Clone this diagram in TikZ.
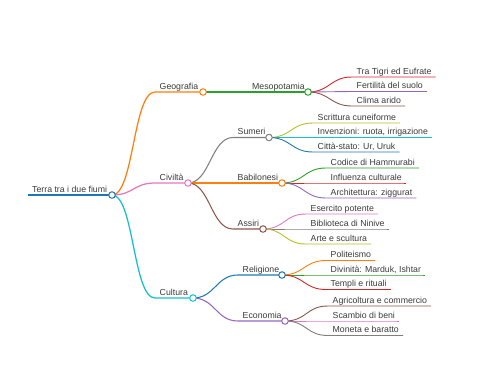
\documentclass[tikz,border=0pt]{standalone}
\usepackage{fontspec}
\setmainfont{Liberation Sans}
\definecolor{cBlue}{HTML}{1F77B4}
\definecolor{cOrange}{HTML}{FF7F0E}
\definecolor{cGreen}{HTML}{2CA02C}
\definecolor{cRed}{HTML}{D62728}
\definecolor{cPurple}{HTML}{9467BD}
\definecolor{cBrown}{HTML}{8C564B}
\definecolor{cPink}{HTML}{E377C2}
\definecolor{cGray}{HTML}{7F7F7F}
\definecolor{cOlive}{HTML}{BCBD22}
\definecolor{cCyan}{HTML}{17BECF}
\definecolor{txtcol}{HTML}{3A3A3A}
\begin{document}
\begin{tikzpicture}[x=1pt,y=-1pt,
  txt/.style={anchor=base west, inner sep=0pt, font=\fontsize{8.75}{10}\selectfont, text=txtcol},
  dot/.style={circle, draw, fill=white, inner sep=0pt, minimum size=6.5pt, line width=1pt},
  mm/.style={out=0, in=180, distance=22pt},
  w0/.style={line width=1.8pt},
  w1/.style={line width=1.25pt},
  w2/.style={line width=1.05pt},
  w3/.style={line width=0.9pt}]
\useasboundingbox (0,0) rectangle (480,384);

% ---------- root
\node[txt] (root) at (32,192) {Terra tra i due fiumi};
\coordinate (root-l) at (28,195);
\coordinate (root-c) at (112,195);
\draw[w0,cBlue] (root-l) -- (root-c);

% ---------- level 1
\node[txt] (geo) at (159.5,89) {Geografia};
\coordinate (geo-l) at (155,92);
\coordinate (geo-c) at (203,92);
\draw[w1,cOrange] (root-c) to[mm] (geo-l) -- (geo-c);

\node[txt] (civ) at (159.5,180) {Civiltà};
\coordinate (civ-l) at (155,183);
\coordinate (civ-c) at (188,183);
\draw[w1,cPink] (root-c) to[mm] (civ-l) -- (civ-c);

\node[txt] (cul) at (159.5,295) {Cultura};
\coordinate (cul-l) at (155,298);
\coordinate (cul-c) at (193,298);
\draw[w1,cCyan] (root-c) to[mm] (cul-l) -- (cul-c);

% ---------- level 2
\node[txt] (meso) at (252,89) {Mesopotamia};
\coordinate (meso-l) at (247.5,92);
\coordinate (meso-c) at (308,92);
\draw[w2,cGreen] (geo-c) to[mm] (meso-l) -- (meso-c);

\node[txt] (sum) at (237.5,134.5) {Sumeri};
\coordinate (sum-l) at (233,137.5);
\coordinate (sum-c) at (269,137.5);
\draw[w2,cGray] (civ-c) to[mm] (sum-l) -- (sum-c);

\node[txt] (bab) at (237.5,180) {Babilonesi};
\coordinate (bab-l) at (233,183);
\coordinate (bab-c) at (282,183);
\draw[w2,cOrange] (civ-c) to[mm] (bab-l) -- (bab-c);

\node[txt] (ass) at (237.5,226) {Assiri};
\coordinate (ass-l) at (233,229);
\coordinate (ass-c) at (263,229);
\draw[w2,cBrown] (civ-c) to[mm] (ass-l) -- (ass-c);

\node[txt] (rel) at (242.5,272) {Religione};
\coordinate (rel-l) at (238,275);
\coordinate (rel-c) at (282,275);
\draw[w2,cBlue] (cul-c) to[mm] (rel-l) -- (rel-c);

\node[txt] (eco) at (242.5,318) {Economia};
\coordinate (eco-l) at (238,321);
\coordinate (eco-c) at (285,321);
\draw[w2,cPurple] (cul-c) to[mm] (eco-l) -- (eco-c);

% ---------- leaves: Mesopotamia
\node[txt] (m1) at (356.5,74) {Tra Tigri ed Eufrate};
\coordinate (m1-l) at (352,77);
\draw[w3,cRed] (meso-c) to[mm] (m1-l) -- (m1.east |- m1-l) -- ++(4,0);
\node[txt] (m2) at (356.5,88.5) {Fertilità del suolo};
\coordinate (m2-l) at (352,91.5);
\draw[w3,cPurple] (meso-c) to[mm] (m2-l) -- (m2.east |- m2-l) -- ++(4,0);
\node[txt] (m3) at (356.5,103) {Clima arido};
\coordinate (m3-l) at (352,106);
\draw[w3,cBrown] (meso-c) to[mm] (m3-l) -- (m3.east |- m3-l) -- ++(4,0);

% ---------- leaves: Sumeri
\node[txt] (s1) at (317.5,120) {Scrittura cuneiforme};
\coordinate (s1-l) at (313,123);
\draw[w3,cOlive] (sum-c) to[mm] (s1-l) -- (s1.east |- s1-l) -- ++(4,0);
\node[txt] (s2) at (317.5,134.5) {Invenzioni: ruota, irrigazione};
\coordinate (s2-l) at (313,137.5);
\draw[w3,cCyan] (sum-c) to[mm] (s2-l) -- (s2.east |- s2-l) -- ++(4,0);
\node[txt] (s3) at (317.5,149) {Città-stato: Ur, Uruk};
\coordinate (s3-l) at (313,152);
\draw[w3,cBlue] (sum-c) to[mm] (s3-l) -- (s3.east |- s3-l) -- ++(4,0);

% ---------- leaves: Babilonesi
\node[txt] (b1) at (330.5,165) {Codice di Hammurabi};
\coordinate (b1-l) at (326,168);
\draw[w3,cGreen] (bab-c) to[mm] (b1-l) -- (b1.east |- b1-l) -- ++(4,0);
\node[txt] (b2) at (330.5,180) {Influenza culturale};
\coordinate (b2-l) at (326,183);
\draw[w3,cRed] (bab-c) to[mm] (b2-l) -- (b2.east |- b2-l) -- ++(4,0);
\node[txt] (b3) at (330.5,195) {Architettura: ziggurat};
\coordinate (b3-l) at (326,198);
\draw[w3,cPurple] (bab-c) to[mm] (b3-l) -- (b3.east |- b3-l) -- ++(4,0);

% ---------- leaves: Assiri
\node[txt] (a1) at (310.5,211) {Esercito potente};
\coordinate (a1-l) at (306,214);
\draw[w3,cPink] (ass-c) to[mm] (a1-l) -- (a1.east |- a1-l) -- ++(4,0);
\node[txt] (a2) at (310.5,226) {Biblioteca di Ninive};
\coordinate (a2-l) at (306,229);
\draw[w3,cGray] (ass-c) to[mm] (a2-l) -- (a2.east |- a2-l) -- ++(4,0);
\node[txt] (a3) at (310.5,241) {Arte e scultura};
\coordinate (a3-l) at (306,244);
\draw[w3,cOlive] (ass-c) to[mm] (a3-l) -- (a3.east |- a3-l) -- ++(4,0);

% ---------- leaves: Religione
\node[txt] (r1) at (330.5,257.5) {Politeismo};
\coordinate (r1-l) at (326,260.5);
\draw[w3,cOrange] (rel-c) to[mm] (r1-l) -- (r1.east |- r1-l) -- ++(4,0);
\node[txt] (r2) at (330.5,272) {Divinità: Marduk, Ishtar};
\coordinate (r2-l) at (326,275);
\draw[w3,cGreen] (rel-c) to[mm] (r2-l) -- (r2.east |- r2-l) -- ++(4,0);
\node[txt] (r3) at (330.5,286.5) {Templi e rituali};
\coordinate (r3-l) at (326,289.5);
\draw[w3,cRed] (rel-c) to[mm] (r3-l) -- (r3.east |- r3-l) -- ++(4,0);

% ---------- leaves: Economia
\node[txt] (e1) at (332.5,303) {Agricoltura e commercio};
\coordinate (e1-l) at (328,306);
\draw[w3,cBrown] (eco-c) to[mm] (e1-l) -- (e1.east |- e1-l) -- ++(4,0);
\node[txt] (e2) at (332.5,318) {Scambio di beni};
\coordinate (e2-l) at (328,321);
\draw[w3,cPink] (eco-c) to[mm] (e2-l) -- (e2.east |- e2-l) -- ++(4,0);
\node[txt] (e3) at (332.5,332.5) {Moneta e baratto};
\coordinate (e3-l) at (328,335.5);
\draw[w3,cGray] (eco-c) to[mm] (e3-l) -- (e3.east |- e3-l) -- ++(4,0);

% ---------- circles on top
\node[dot,draw=cBlue] (root-d) at (root-c) {};
\node[dot,draw=cOrange] (geo-d) at (geo-c) {};
\node[dot,draw=cPink] (civ-d) at (civ-c) {};
\node[dot,draw=cCyan] (cul-d) at (cul-c) {};
\node[dot,draw=cGreen] (meso-d) at (meso-c) {};
\node[dot,draw=cGray] (sum-d) at (sum-c) {};
\node[dot,draw=cOrange] (bab-d) at (bab-c) {};
\node[dot,draw=cBrown] (ass-d) at (ass-c) {};
\node[dot,draw=cBlue] (rel-d) at (rel-c) {};
\node[dot,draw=cPurple] (eco-d) at (eco-c) {};
\end{tikzpicture}
\end{document}
